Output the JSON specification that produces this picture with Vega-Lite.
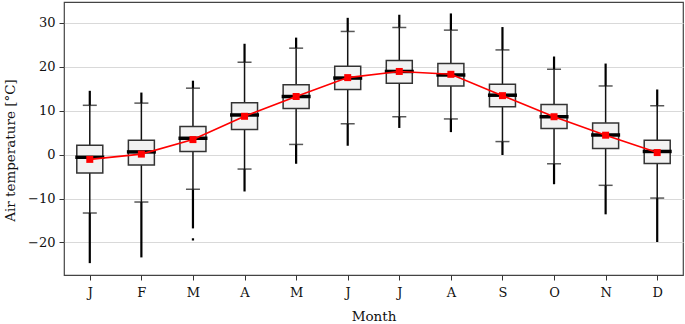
{
  "$schema": "https://vega.github.io/schema/vega-lite/v6.json",
  "width": 619,
  "height": 273,
  "autosize": {"type": "none"},
  "padding": {"left": 64, "top": 2, "right": 2, "bottom": 49},
  "background": "white",
  "config": {
    "font": "DejaVu Serif",
    "view": {"stroke": "#444444", "strokeWidth": 1.2},
    "axis": {
      "labelFont": "DejaVu Serif",
      "titleFont": "DejaVu Serif",
      "labelFontSize": 13,
      "titleFontSize": 13.5,
      "titleFontWeight": "normal",
      "labelColor": "#111111",
      "titleColor": "#111111",
      "tickColor": "#333333",
      "domain": false,
      "tickSize": 5
    }
  },
  "datasets": {
    "stats": [
      {"m": 1, "q1": -4.2, "q3": 2.1, "med": -0.6, "mean": -1.1, "lo": -13.3, "hi": 11.2, "outLo": -24.7, "outHi": 14.5},
      {"m": 2, "q1": -2.4, "q3": 3.25, "med": 0.6, "mean": 0.1, "lo": -10.8, "hi": 11.7, "outLo": -23.4, "outHi": 14.1},
      {"m": 3, "q1": 0.7, "q3": 6.4, "med": 3.7, "mean": 3.4, "lo": -7.9, "hi": 15.1, "outLo": -16.8, "outHi": 16.8},
      {"m": 4, "q1": 5.7, "q3": 11.8, "med": 9.0, "mean": 8.7, "lo": -3.3, "hi": 21.0, "outLo": -8.4, "outHi": 25.2},
      {"m": 5, "q1": 10.45, "q3": 15.9, "med": 13.2, "mean": 13.2, "lo": 2.3, "hi": 24.2, "outLo": -2.1, "outHi": 26.6},
      {"m": 6, "q1": 14.8, "q3": 20.1, "med": 17.4, "mean": 17.5, "lo": 7.0, "hi": 28.0, "outLo": 2.0, "outHi": 31.1},
      {"m": 7, "q1": 16.2, "q3": 21.4, "med": 18.9, "mean": 18.9, "lo": 8.6, "hi": 28.9, "outLo": 6.05, "outHi": 31.8},
      {"m": 8, "q1": 15.6, "q3": 20.7, "med": 18.1, "mean": 18.25, "lo": 8.1, "hi": 28.3, "outLo": 5.1, "outHi": 32.1},
      {"m": 9, "q1": 10.9, "q3": 16.0, "med": 13.5, "mean": 13.4, "lo": 2.95, "hi": 23.8, "outLo": -0.1, "outHi": 29.0},
      {"m": 10, "q1": 5.9, "q3": 11.4, "med": 8.6, "mean": 8.6, "lo": -2.1, "hi": 19.4, "outLo": -6.75, "outHi": 22.3},
      {"m": 11, "q1": 1.4, "q3": 7.2, "med": 4.45, "mean": 4.4, "lo": -7.0, "hi": 15.6, "outLo": -13.6, "outHi": 20.7},
      {"m": 12, "q1": -2.05, "q3": 3.25, "med": 0.7, "mean": 0.45, "lo": -9.9, "hi": 11.1, "outLo": -19.9, "outHi": 14.8}
    ],
    "isolated": [
      {"m": 3, "v": -19.3}
    ]
  },
  "data": {"name": "stats"},
  "encoding": {
    "x": {
      "field": "m",
      "type": "ordinal",
      "scale": {"type": "point", "padding": 0.5},
      "axis": {
        "title": "Month",
        "labelAngle": 0,
        "labelPadding": 6,
        "titlePadding": 10,
        "labelExpr": "['J','F','M','A','M','J','J','A','S','O','N','D'][datum.value - 1]"
      }
    }
  },
  "layer": [
    {
      "mark": {"type": "rule", "color": "#111111", "strokeWidth": 1.5},
      "encoding": {
        "y": {
          "field": "lo",
          "type": "quantitative",
          "scale": {"domain": [-27.4, 34.7], "nice": false, "zero": false},
          "axis": {
            "title": "Air temperature [°C]",
            "values": [-20, -10, 0, 10, 20, 30],
            "grid": true,
            "gridColor": "#d9d9d9",
            "gridWidth": 1,
            "labelPadding": 4,
            "titlePadding": 10,
            "titleY": 148,
            "labelExpr": "replace(datum.label, '-', '−')"
          }
        },
        "y2": {"field": "hi"}
      }
    },
    {
      "mark": {"type": "rule", "color": "#000000", "strokeWidth": 2.2},
      "encoding": {
        "y": {"field": "outLo", "type": "quantitative"},
        "y2": {"field": "lo"}
      }
    },
    {
      "mark": {"type": "rule", "color": "#000000", "strokeWidth": 2.2},
      "encoding": {
        "y": {"field": "hi", "type": "quantitative"},
        "y2": {"field": "outHi"}
      }
    },
    {
      "data": {"name": "isolated"},
      "mark": {"type": "point", "shape": "square", "filled": true, "color": "#000000", "size": 5, "opacity": 1},
      "encoding": {
        "y": {"field": "v", "type": "quantitative"}
      }
    },
    {
      "mark": {"type": "tick", "color": "#111111", "size": 14, "thickness": 1.5},
      "encoding": {"y": {"field": "lo", "type": "quantitative"}}
    },
    {
      "mark": {"type": "tick", "color": "#111111", "size": 14, "thickness": 1.5},
      "encoding": {"y": {"field": "hi", "type": "quantitative"}}
    },
    {
      "mark": {"type": "bar", "width": 26, "fill": "#f2f2f2", "stroke": "#333333", "strokeWidth": 1.5},
      "encoding": {
        "y": {"field": "q1", "type": "quantitative"},
        "y2": {"field": "q3"}
      }
    },
    {
      "mark": {"type": "tick", "color": "#000000", "size": 29, "thickness": 3.5, "opacity": 1},
      "encoding": {"y": {"field": "med", "type": "quantitative"}}
    },
    {
      "mark": {"type": "line", "color": "#ff0000", "strokeWidth": 1.6},
      "encoding": {"y": {"field": "mean", "type": "quantitative"}}
    },
    {
      "mark": {"type": "point", "shape": "square", "filled": true, "color": "#ff0000", "size": 49, "opacity": 1},
      "encoding": {"y": {"field": "mean", "type": "quantitative"}}
    }
  ]
}
